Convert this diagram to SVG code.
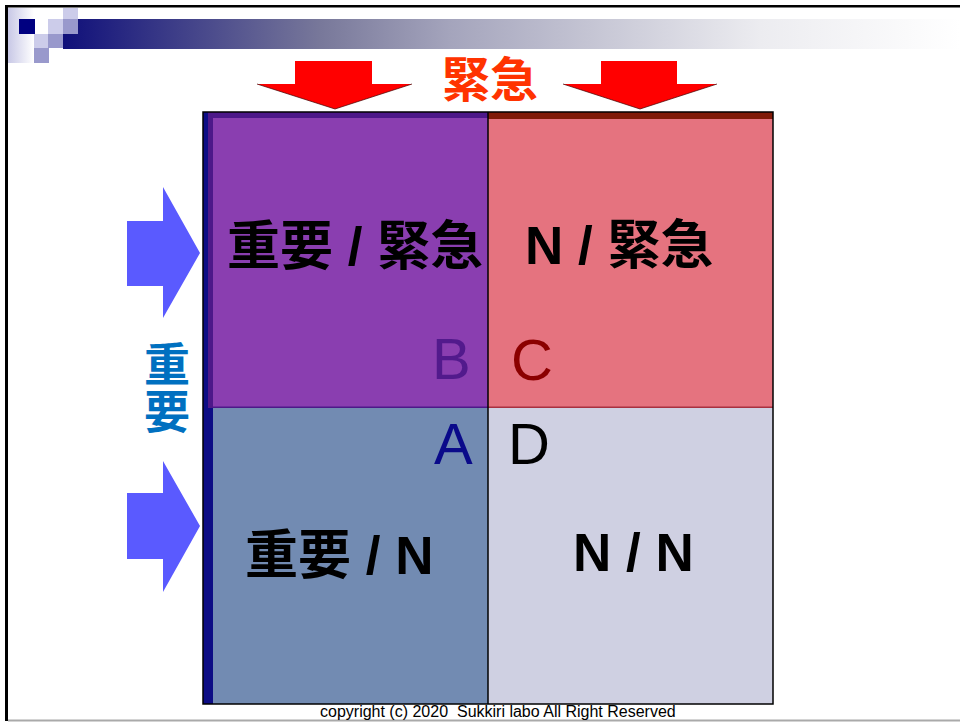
<svg xmlns="http://www.w3.org/2000/svg" width="960" height="723" viewBox="0 0 960 723">
<defs>
<linearGradient id="barGrad" x1="63" y1="0" x2="960" y2="0" gradientUnits="userSpaceOnUse">
<stop offset="0" stop-color="#10107a"/>
<stop offset="0.287" stop-color="#78789a"/>
<stop offset="0.43" stop-color="#a4a4bc"/>
<stop offset="0.777" stop-color="#ececf0"/>
<stop offset="1" stop-color="#ffffff"/>
</linearGradient>
<linearGradient id="leftGrad" x1="8" y1="0" x2="34" y2="0" gradientUnits="userSpaceOnUse">
<stop offset="0" stop-color="#c8c8e6"/>
<stop offset="1" stop-color="#ffffff"/>
</linearGradient>
<style>
.lbl{font-family:"Liberation Sans","Noto Sans CJK JP",sans-serif;font-weight:bold;font-size:53px;fill:#000}
.let{font-family:"Liberation Sans",Arial,sans-serif;font-size:58px}
.red{fill:#ff0000}
.redEdge{fill:none;stroke:#400000;stroke-width:1;stroke-opacity:0.7}
.blue{fill:#5a5aff}
.lt{fill:#ccccea}
.md{fill:#9999cc}
</style>
</defs>
<rect width="960" height="723" fill="#ffffff"/>
<g id="frame">
<rect x="8" y="8" width="26" height="55" fill="url(#leftGrad)"/>
<rect x="63" y="19" width="897" height="30" fill="url(#barGrad)"/>
<rect x="19" y="19" width="16" height="15" fill="#000080"/>
<rect class="lt" x="63" y="8" width="15" height="11"/>
<rect class="md" x="63" y="19" width="15" height="15"/>
<rect class="lt" x="48" y="19" width="15" height="15"/>
<rect class="md" x="48" y="34" width="15" height="14"/>
<rect class="lt" x="34" y="34" width="14" height="14"/>
<rect class="md" x="34" y="48" width="15" height="15"/>
<rect x="5" y="5" width="955" height="2.5" fill="#000"/>
<rect x="5" y="5" width="3" height="716" fill="#000"/>
<rect x="8" y="719.5" width="952" height="2" fill="#aaaaaa"/>
</g>
<g id="quadrant-B">
<rect x="208" y="112" width="280" height="296" fill="#8a3eb0"/>
<rect x="208" y="112" width="280" height="6" fill="#4d1889"/>
<rect x="208" y="112" width="5" height="296" fill="#4d1889"/>
<rect x="208" y="406.5" width="280" height="2" fill="#4d1889"/>
<text class="lbl" x="227" y="265">重要 / 緊急</text>
<text class="let" x="432" y="379" fill="#521a8c">B</text>
</g>
<g id="quadrant-C">
<rect x="488" y="112" width="285" height="296" fill="#e5737f"/>
<rect x="488" y="112" width="285" height="7" fill="#801a08"/>
<rect x="488" y="406.5" width="285" height="2" fill="#a83040"/>
<text class="lbl" x="525" y="264">N / 緊急</text>
<text class="let" x="511" y="380" fill="#8b0000">C</text>
</g>
<g id="quadrant-A">
<rect x="208" y="408" width="280" height="296" fill="#728bb2"/>
<rect x="203" y="112" width="5" height="592" fill="#0d0d85"/>
<rect x="208" y="408" width="5" height="296" fill="#0d0d85"/>
<text class="lbl" x="245" y="574">重要 / N</text>
<text class="let" x="434" y="464" fill="#0a0a8a">A</text>
</g>
<g id="quadrant-D">
<rect x="488" y="408" width="285" height="296" fill="#cfd0e2"/>
<text class="lbl" x="573" y="571">N / N</text>
<text class="let" x="508" y="464" fill="#000">D</text>
</g>
<g id="grid-lines" fill="none" stroke="#000">
<rect x="203" y="112" width="570" height="592" stroke-width="1.5"/>
<line x1="488" y1="112" x2="488" y2="704" stroke-width="1.5"/>
</g>
<g id="arrows">
<polygon class="red" points="295,61 372,61 372,84 412,84 335,109 257,84 295,84"/>
<polyline class="redEdge" points="257,84 335,109 412,84"/>
<polygon class="red" points="601,61 677,61 677,84 717,84 640,109 563,84 601,84"/>
<polyline class="redEdge" points="563,84 640,109 717,84"/>
<polygon class="blue" points="127,221 163,221 163,187 200,253 163,318 163,286 127,286"/>
<polygon class="blue" points="127,493 163,493 163,461 200,526 163,592 163,559 127,559"/>
</g>
<g id="axis-labels">
<text x="490" y="97" text-anchor="middle" font-family="Liberation Sans, Noto Sans CJK JP, sans-serif" font-weight="bold" font-size="48" fill="#ff3300">緊急</text>
<text x="167" y="381" text-anchor="middle" font-family="Liberation Sans, Noto Sans CJK JP, sans-serif" font-weight="bold" font-size="46" fill="#0070c0">重</text>
<text x="167" y="428" text-anchor="middle" font-family="Liberation Sans, Noto Sans CJK JP, sans-serif" font-weight="bold" font-size="46" fill="#0070c0">要</text>
</g>
<text x="320" y="717" xml:space="preserve" font-family="Liberation Sans, Arial, sans-serif" font-size="16" fill="#000">copyright (c) 2020  Sukkiri labo All Right Reserved</text>
</svg>
